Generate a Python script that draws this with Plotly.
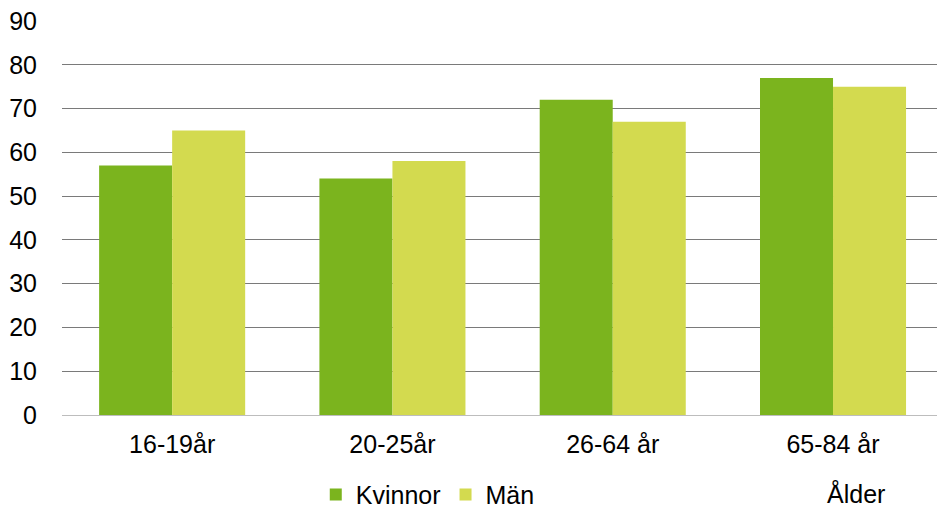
import plotly.graph_objects as go

# Age groups and share per group
age_groups = ["16-19år", "20-25år", "26-64 år", "65-84 år"]
kvinnor = [57, 54, 72, 77]
man = [65, 58, 67, 75]
y_ticks = [0, 10, 20, 30, 40, 50, 60, 70, 80, 90]

FONT = "Liberation Sans, Arial, sans-serif"

fig = go.Figure()
fig.add_trace(go.Bar(name="Kvinnor", x=age_groups, y=kvinnor,
                     marker=dict(color="#7bb41e", line=dict(width=0))))
fig.add_trace(go.Bar(name="Män", x=age_groups, y=man,
                     marker=dict(color="#d3da4f", line=dict(width=0))))

fig.update_layout(
    width=937, height=508,
    margin=dict(l=62, r=0, t=21, b=93, autoexpand=False),
    plot_bgcolor="white", paper_bgcolor="white",
    barmode="group", bargap=0.337, bargroupgap=0,
    font=dict(family=FONT, size=25, color="#000000"),
    showlegend=True,
    legend=dict(orientation="h", xref="container", yref="container",
                x=0.337, xanchor="left", y=0.026, yanchor="middle",
                font=dict(size=25), itemwidth=30, tracegroupgap=0,
                bgcolor="rgba(0,0,0,0)"),
    annotations=[dict(text="Ålder", xref="paper", yref="paper", x=0.907, y=-0.2,
                      xanchor="center", yanchor="middle", showarrow=False,
                      font=dict(size=25, family=FONT))],
)
# The category axis runs slightly past the right edge of the figure
fig.update_xaxes(range=[-0.5, 3.472], showgrid=False, showline=False, ticks="",
                 ticklabelstandoff=12, tickfont=dict(size=25))
fig.update_yaxes(range=[0, 90], tickvals=y_ticks, showgrid=True, gridcolor="#7a7a7a",
                 gridwidth=1.2, zeroline=True, zerolinecolor="#bdbdbd", zerolinewidth=1.2,
                 ticks="", ticklabelstandoff=24, tickfont=dict(size=25))

fig.write_html("out.html")
